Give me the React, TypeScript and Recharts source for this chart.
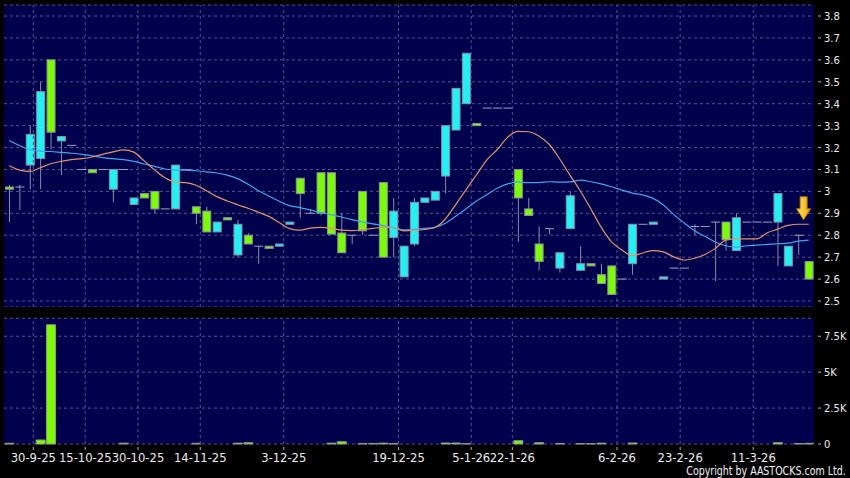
import React from "react";
import {
  ComposedChart,
  BarChart,
  Bar,
  Line,
  XAxis,
  YAxis,
  CartesianGrid,
  ReferenceLine,
  ReferenceDot,
} from "recharts";

// daily candles, oldest first
const opens = [
  3.02, 3.02, 3.12, 3.15, 3.6, 3.23, 3.21, 3.1, 3.1, 3.1,
  3.01, 3.1, 2.94, 2.99, 3.0, 2.92, 2.92, 3.1, 2.93, 2.91,
  2.815, 2.88, 2.71, 2.8, 2.75, 2.75, 2.75, 2.85, 3.06, 2.9,
  3.085, 3.085, 2.81, 2.8, 3.0, 2.8, 3.04, 2.79, 2.61, 2.76,
  2.95, 2.96, 3.07, 3.28, 3.4, 3.31, 3.38, 3.38, 3.38, 3.1,
  2.92, 2.76, 2.83, 2.65, 2.83, 2.64, 2.67, 2.62, 2.66, 2.6,
  2.67, 2.85, 2.85, 2.6, 2.65, 2.65, 2.84, 2.84, 2.86, 2.86,
  2.73, 2.86, 2.86, 2.86, 2.86, 2.66, 2.8, 2.68,
];
const closes = [
  3.01, 3.02, 3.26, 3.455, 3.27, 3.25, 3.21, 3.1, 3.085, 3.1,
  3.1, 3.1, 2.97, 2.97, 2.92, 2.92, 3.12, 3.1, 2.9, 2.815,
  2.86, 2.87, 2.85, 2.76, 2.75, 2.74, 2.76, 2.86, 2.99, 2.9,
  2.9, 2.805, 2.72, 2.8, 2.82, 2.8, 2.7, 2.91, 2.75, 2.95,
  2.97, 3.0, 3.3, 3.47, 3.63, 3.3, 3.38, 3.38, 3.38, 2.97,
  2.89, 2.68, 2.83, 2.72, 2.98, 2.67, 2.66, 2.58, 2.53, 2.6,
  2.85, 2.85, 2.86, 2.61, 2.65, 2.65, 2.84, 2.84, 2.86, 2.78,
  2.88, 2.86, 2.86, 2.86, 2.99, 2.75, 2.8, 2.6,
];
const highs = [
  3.03, 3.03, 3.3, 3.5, 3.6, 3.25, 3.21, 3.1, 3.1, 3.1,
  3.1, 3.1, 2.97, 2.99, 3.0, 2.92, 3.12, 3.1, 2.93, 2.93,
  2.86, 2.88, 2.87, 2.81, 2.75, 2.75, 2.76, 2.86, 3.06, 2.92,
  3.085, 3.085, 2.9, 2.8, 3.0, 2.8, 3.04, 2.97, 2.75, 2.97,
  2.97, 3.0, 3.3, 3.47, 3.63, 3.31, 3.38, 3.38, 3.38, 3.1,
  2.97, 2.84, 2.83, 2.72, 3.0, 2.75, 2.67, 2.67, 2.66, 2.6,
  2.85, 2.85, 2.86, 2.61, 2.65, 2.65, 2.85, 2.84, 2.86, 2.86,
  2.9, 2.86, 2.86, 2.86, 2.99, 2.75, 2.8, 2.68,
];
const lows = [
  2.86, 2.915, 3.01, 3.01, 3.19, 3.075, 3.21, 3.1, 3.085, 3.1,
  2.95, 3.1, 2.94, 2.97, 2.9, 2.92, 2.92, 3.1, 2.85, 2.815,
  2.815, 2.87, 2.7, 2.76, 2.67, 2.74, 2.75, 2.85, 2.88, 2.9,
  2.89, 2.805, 2.72, 2.76, 2.8, 2.8, 2.7, 2.7, 2.61, 2.75,
  2.95, 2.96, 2.99, 3.28, 3.4, 3.3, 3.38, 3.38, 3.38, 2.77,
  2.89, 2.64, 2.805, 2.63, 2.83, 2.64, 2.66, 2.58, 2.53, 2.6,
  2.62, 2.85, 2.85, 2.6, 2.65, 2.65, 2.8, 2.84, 2.59, 2.73,
  2.73, 2.86, 2.86, 2.86, 2.66, 2.66, 2.71, 2.6,
];
const volumes = [
  50, 0, 0, 280, 8300, 0, 0, 0, 0, 0,
  0, 60, 0, 0, 0, 0, 0, 0, 50, 0,
  0, 0, 60, 90, 0, 0, 0, 0, 0, 0,
  0, 60, 160, 0, 40, 40, 60, 30, 0, 0,
  0, 0, 70, 70, 30, 0, 0, 0, 0, 230,
  0, 90, 0, 30, 0, 30, 20, 60, 0, 0,
  70, 0, 0, 0, 0, 0, 0, 0, 0, 0,
  0, 0, 0, 0, 90, 0, 30, 50,
];
const ma10 = [
  3.117, 3.097, 3.091, 3.108, 3.126, 3.137, 3.145, 3.149, 3.157, 3.169,
  3.18, 3.189, 3.179, 3.139, 3.098, 3.062, 3.043, 3.04, 3.028, 3.003,
  2.976, 2.956, 2.939, 2.923, 2.905, 2.886, 2.858, 2.83, 2.823, 2.832,
  2.836, 2.832, 2.823, 2.821, 2.825, 2.831, 2.836, 2.834, 2.82, 2.822,
  2.826, 2.835, 2.874, 2.94, 3.008, 3.076, 3.144, 3.191, 3.247, 3.274,
  3.272, 3.253, 3.215, 3.149, 3.074, 3.002, 2.921, 2.837, 2.77, 2.733,
  2.707, 2.719, 2.73, 2.724, 2.701, 2.687, 2.695, 2.712, 2.74, 2.778,
  2.783, 2.783, 2.783, 2.811, 2.828, 2.845, 2.85, 2.85,
];
const ma20 = [
  3.232, 3.209, 3.19, 3.184, 3.182, 3.178, 3.174, 3.169, 3.162, 3.154,
  3.149, 3.145, 3.137, 3.125, 3.114, 3.102, 3.097, 3.097, 3.094, 3.089,
  3.084, 3.074, 3.058, 3.033, 3.003, 2.979, 2.955, 2.935, 2.926, 2.915,
  2.904, 2.894, 2.883, 2.871, 2.861, 2.852, 2.844, 2.835, 2.824, 2.827,
  2.831, 2.836, 2.855, 2.887, 2.921, 2.956, 2.985, 3.014, 3.034, 3.043,
  3.04, 3.04, 3.044, 3.042, 3.043, 3.051, 3.044, 3.034, 3.021, 3.006,
  2.992, 2.984, 2.968, 2.938, 2.894, 2.856, 2.82, 2.795, 2.769, 2.752,
  2.746, 2.752, 2.755, 2.758, 2.761, 2.764, 2.773, 2.778,
];

// date labels sit at (fractional) candle positions
const tickPos = [2.32, 7.32, 12.4, 18.4, 26.44, 37.49, 44.49, 48.45, 58.53, 64.61, 71.65];
const tickLabels = [
  "30-9-25", "15-10-25", "30-10-25", "14-11-25", "3-12-25", "19-12-25",
  "5-1-26", "22-1-26", "6-2-26", "23-2-26", "11-3-26",
];
const priceTicks = [2.5, 2.6, 2.7, 2.8, 2.9, 3, 3.1, 3.2, 3.3, 3.4, 3.5, 3.6, 3.7, 3.8];
const volTicks = [0, 2500, 5000, 7500];
const signal = { at: 76.5, price: 2.925 };

const rows = opens.map((o, i) => ({
  i,
  open: o,
  close: closes[i],
  wick: [lows[i], highs[i]],
  body: [Math.min(o, closes[i]), Math.max(o, closes[i])],
  vol: volumes[i],
  ma10: ma10[i],
  ma20: ma20[i],
}));

const PANEL = "#00004c";
const GRID = "#545490";
const UP = "#1ef2f2";
const DOWN = "#7cfc00";
const EDGE = "#8a8fa6";
const FLAT = "#a0a0c0";
const TEXT = "#ececec";
const X_DOMAIN = [-0.5, 77.5];

const Wick = (p: any) => {
  const { x, y, width, height } = p;
  if (!height || height < 0.5) return <g />;
  const cx = x + width / 2;
  return <line x1={cx} x2={cx} y1={y} y2={y + height} stroke={EDGE} strokeWidth={1} />;
};

const Body = (p: any) => {
  const { x, y, width, height, payload } = p;
  if (payload.open === payload.close) {
    return <line x1={x} x2={x + width} y1={y} y2={y} stroke={FLAT} strokeWidth={1} />;
  }
  const up = payload.close > payload.open;
  return (
    <rect
      x={x + 0.5}
      y={y}
      width={width - 1}
      height={Math.max(height, 1.5)}
      fill={up ? UP : DOWN}
      stroke={EDGE}
      strokeWidth={1}
    />
  );
};

const Arrow = (p: any) => {
  const { cx, cy } = p;
  const pts = [
    [cx - 3.5, cy - 11], [cx + 3.5, cy - 11], [cx + 3.5, cy + 1], [cx + 7, cy + 1],
    [cx, cy + 12], [cx - 7, cy + 1], [cx - 3.5, cy + 1],
  ].map((q) => q.join(",")).join(" ");
  return (
    <g>
      <defs>
        <linearGradient id="arrowFill" x1="0" y1="0" x2="1" y2="0">
          <stop offset="0" stopColor="#ffe866" />
          <stop offset="1" stopColor="#f0a400" />
        </linearGradient>
      </defs>
      <polygon points={pts} fill="url(#arrowFill)" stroke="#b07a00" strokeWidth={1} />
    </g>
  );
};

const PriceTick = (p: any) => {
  const { x, y, payload } = p;
  const v = payload.value;
  const label = Number.isInteger(v) ? String(v) : v.toFixed(1);
  return (
    <g>
      <line x1={x + 4} x2={x + 7} y1={y} y2={y} stroke="#b0b0b0" />
      <text x={x + 10} y={y + 4} fill={TEXT} fontSize={10} fontFamily="DejaVu Sans">
        {label}
      </text>
    </g>
  );
};

const VolTick = (p: any) => {
  const { x, y, payload } = p;
  const v = payload.value;
  const label = v === 0 ? "0" : `${v / 1000}K`;
  return (
    <g>
      <line x1={x + 4} x2={x + 7} y1={y} y2={y} stroke="#b0b0b0" />
      <text x={x + 10} y={y + 4} fill={TEXT} fontSize={10} fontFamily="DejaVu Sans">
        {label}
      </text>
    </g>
  );
};

const DateTick = (p: any) => {
  const { x, y, payload } = p;
  const label = tickLabels[tickPos.indexOf(payload.value)];
  return (
    <g>
      <line x1={x} x2={x} y1={y + 3} y2={y + 6} stroke="#b0b0b0" />
      <text x={x} y={y + 17.7} textAnchor="middle" fill={TEXT} fontSize={11.6} fontFamily="DejaVu Sans">
        {label}
      </text>
    </g>
  );
};

const App = () => {
  return (
    <div
      style={{
        position: "absolute",
        left: 0,
        top: 0,
        width: 850,
        height: 478,
        background: "#000",
        overflow: "hidden",
        fontFamily: "DejaVu Sans",
      }}
    >
      <div style={{ position: "absolute", left: 0, top: 0 }}>
        <ComposedChart width={850} height={307} data={rows} margin={{ top: 5, right: 0, bottom: 0, left: 4 }}>
          <CartesianGrid vertical={false} stroke={GRID} strokeDasharray="3 3" fill={PANEL} />
          <XAxis xAxisId="w" type="number" dataKey="i" domain={X_DOMAIN} hide />
          <XAxis xAxisId="b" type="number" dataKey="i" domain={X_DOMAIN} hide />
          <YAxis
            orientation="right"
            width={36}
            domain={[2.4726, 3.8502]}
            ticks={priceTicks}
            interval={0}
            axisLine={false}
            tickLine={false}
            tickSize={0}
            tickMargin={0}
            tick={<PriceTick />}
          />
          {tickPos.map((t) => (
            <ReferenceLine key={t} xAxisId="w" x={t} stroke={GRID} strokeDasharray="3 3" />
          ))}
          <Line
            xAxisId="w"
            type="monotone"
            dataKey="ma20"
            stroke="#3ea6ee"
            strokeWidth={1.2}
            dot={false}
            isAnimationActive={false}
          />
          <Line
            xAxisId="w"
            type="monotone"
            dataKey="ma10"
            stroke="#e4916a"
            strokeWidth={1.2}
            dot={false}
            isAnimationActive={false}
          />
          <Bar xAxisId="w" dataKey="wick" barSize={9} shape={<Wick />} isAnimationActive={false} />
          <Bar xAxisId="b" dataKey="body" barSize={9} shape={<Body />} isAnimationActive={false} />
          <ReferenceDot xAxisId="w" x={signal.at} y={signal.price} r={0} shape={<Arrow />} />
        </ComposedChart>
      </div>
      <div style={{ position: "absolute", left: 0, top: 310 }}>
        <BarChart width={850} height={168} data={rows} margin={{ top: 8.3, right: 0, bottom: 0, left: 4 }}>
          <CartesianGrid vertical={false} stroke={GRID} strokeDasharray="3 3" fill={PANEL} />
          <XAxis
            type="number"
            dataKey="i"
            domain={X_DOMAIN}
            ticks={tickPos}
            interval={0}
            height={34}
            axisLine={false}
            tickLine={false}
            tickSize={0}
            tickMargin={0}
            tick={<DateTick />}
          />
          <YAxis
            orientation="right"
            width={36}
            domain={[0, 8750]}
            ticks={volTicks}
            interval={0}
            axisLine={false}
            tickLine={false}
            tickSize={0}
            tickMargin={0}
            tick={<VolTick />}
          />
          {tickPos.map((t) => (
            <ReferenceLine key={t} x={t} stroke={GRID} strokeDasharray="3 3" />
          ))}
          <Bar dataKey="vol" barSize={9} fill={DOWN} stroke="#8c9a8c" strokeWidth={1} isAnimationActive={false} />
        </BarChart>
      </div>
      <div
        style={{
          position: "absolute",
          right: 4,
          top: 464.5,
          fontSize: 11.5,
          lineHeight: "13px",
          color: "#f2f2f2",
          whiteSpace: "nowrap",
          transform: "scaleX(0.823)",
          transformOrigin: "right top",
        }}
      >
        Copyright by AASTOCKS.com Ltd.
      </div>
    </div>
  );
};

export default App;
